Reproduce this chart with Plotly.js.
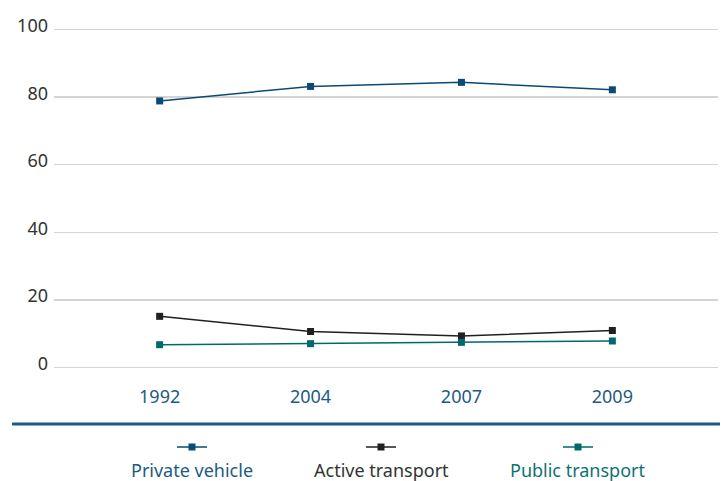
<!DOCTYPE html>
<html><head><meta charset="utf-8">
<script src="https://cdn.plot.ly/plotly-3.0.1.min.js"></script>
<style>html,body{margin:0;padding:0;background:#fff}</style>
</head><body><div id="chart" style="width:725px;height:481px"></div>
<script>
const years = ['1992', '2004', '2007', '2009'];
const privateVehicle = [78.9, 83.2, 84.4, 82.2];
const activeTransport = [15.1, 10.6, 9.3, 10.9];
const publicTransport = [6.7, 7.0, 7.4, 7.8];
const seriesNames = ['Private vehicle', 'Active transport', 'Public transport'];
const lineColors = ['#0b4a72', '#231f20', '#006a6a'];
const textColors = ['#1d5a85', '#333333', '#107272'];
const yTicks = [0, 20, 40, 60, 80, 100];

const font = 'Noto Sans, Open Sans, sans-serif';
const seriesData = [privateVehicle, activeTransport, publicTransport];
const traces = seriesData.map((vals, i) => ({
  type: 'scatter', mode: 'lines+markers', x: years, y: vals, name: seriesNames[i],
  line: {color: lineColors[i], width: 1.5},
  marker: {symbol: 'square', size: 7, color: lineColors[i]},
  showlegend: false, hoverinfo: 'x+y'
}));

// plot area: x 54..718, y 28..369
const px = p => (p - 54) / 664;
const py = p => (369 - p) / 341;
const legendX = [192, 381, 578];
const shapes = [
  {type: 'line', xref: 'paper', yref: 'paper', x0: px(12), x1: px(720), y0: py(424), y1: py(424),
   line: {color: '#1d5a85', width: 3}}
];
const annotations = [];
legendX.forEach((cx, i) => {
  shapes.push({type: 'line', xref: 'paper', yref: 'paper', x0: px(cx - 15), x1: px(cx + 15),
    y0: py(447), y1: py(447), line: {color: lineColors[i], width: 1.5}});
  shapes.push({type: 'rect', xref: 'paper', yref: 'paper', x0: px(cx - 3.5), x1: px(cx + 3.5),
    y0: py(450.5), y1: py(443.5), fillcolor: lineColors[i], line: {width: 0}});
  annotations.push({xref: 'paper', yref: 'paper', x: px(cx), y: py(470), text: seriesNames[i],
    showarrow: false, xanchor: 'center', yanchor: 'middle',
    font: {family: font, size: 18, color: textColors[i]}});
});

const layout = {
  width: 725, height: 481,
  margin: {l: 54, r: 7, t: 28, b: 112},
  paper_bgcolor: '#fff', plot_bgcolor: '#fff',
  font: {family: font},
  xaxis: {type: 'category', range: [-0.7, 3.7], showgrid: false, zeroline: false, showline: false,
    ticks: '', ticklabelstandoff: 15, tickfont: {family: font, size: 18, color: '#1d5a85'}, fixedrange: true},
  yaxis: {range: [-0.5, 100.5], tickvals: yTicks, ticktext: yTicks.map(String), showgrid: true,
    gridcolor: '#d4d4d4', gridwidth: 1.5, zeroline: false, showline: false, ticks: '',
    ticklabelshift: -4, ticklabelstandoff: 5,
    tickfont: {family: font, size: 18, color: '#333333'}, fixedrange: true},
  shapes: shapes, annotations: annotations, showlegend: false
};
Plotly.newPlot('chart', traces, layout, {displayModeBar: false, staticPlot: true});
</script></body></html>
